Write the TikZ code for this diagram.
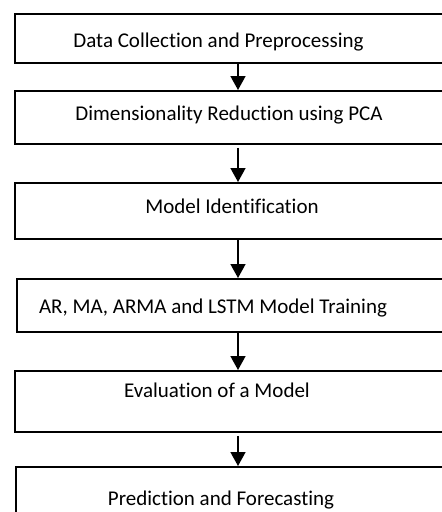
\documentclass[tikz,border=0pt]{standalone}
\usepackage{fontspec}
\setmainfont{Carlito}[Ligatures=NoCommon]
\usetikzlibrary{arrows.meta}
\begin{document}
\begin{tikzpicture}[x=1pt,y=-1pt,
  box/.style={draw=black,line width=1.8pt,rectangle,anchor=north west,minimum width=460pt,inner sep=0pt},
  lbl/.style={inner sep=0pt,anchor=base,font=\fontsize{21}{25}\selectfont,text=black},
  arr/.style={line width=1.6pt,-{Triangle[width=15pt,length=14pt]}}]
\useasboundingbox (0,0) rectangle (442,512);
\clip (0,0) rectangle (442,512);
\node[box,minimum height=49pt] (b1) at (14,13) {};
\node[box,minimum height=53pt] (b2) at (14,90) {};
\node[box,minimum height=56pt] (b3) at (14,182) {};
\node[box,minimum height=53pt] (b4) at (16,278) {};
\node[box,minimum height=61pt] (b5) at (14,370) {};
\node[box,minimum height=56pt] (b6) at (15,466) {};
\node[lbl] (t1) at (218.5,47) {Data Collection and Preprocessing};
\node[lbl] (t2) at (229,120) {Dimensionality Reduction using PCA};
\node[lbl] (t3) at (232,213) {Model Identification};
\node[lbl] (t4) at (213,313) {AR, MA, ARMA and LSTM Model Training};
\node[lbl] (t5) at (217,397) {Evaluation of a Model};
\node[lbl] (t6) at (221,505) {Prediction and Forecasting};
\coordinate (ax) at (238,0);
\draw[arr] (b1.south -| ax) -- (b2.north -| ax);
\draw[arr] ([yshift=-3pt]b2.south -| ax) -- (b3.north -| ax);
\draw[arr] (b3.south -| ax) -- (b4.north -| ax);
\draw[arr] (b4.south -| ax) -- (b5.north -| ax);
\draw[arr] ([yshift=-3pt]b5.south -| ax) -- (b6.north -| ax);
\end{tikzpicture}
\end{document}
